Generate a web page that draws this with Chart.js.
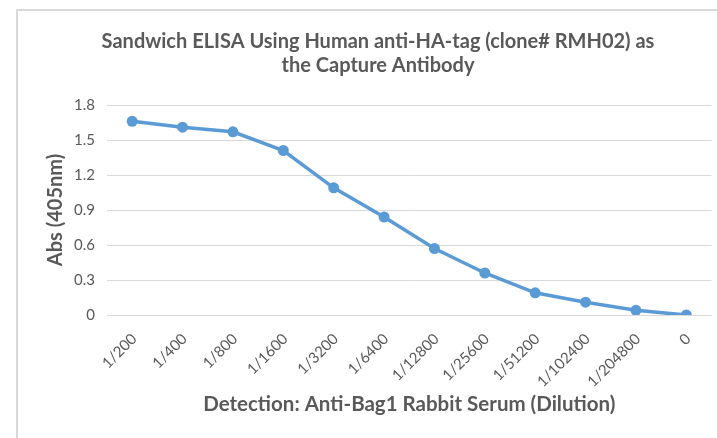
<!DOCTYPE html>
<html>
<head>
<meta charset="utf-8">
<title>Sandwich ELISA</title>
<script src="https://cdn.jsdelivr.net/npm/chart.js@4.4.0/dist/chart.umd.min.js"></script>
<style>
    html, body { margin: 0; padding: 0; background: #fff; overflow: hidden; }
    #frame {
        position: absolute; left: 16px; top: 9px; width: 900px; height: 600px;
        border-left: 2px solid #d9d9d9; border-top: 2px solid #d9d9d9;
    }
    #chart { position: absolute; left: 0; top: 0; }
</style>
</head>
<body>
<div id="frame"></div>
<canvas id="chart" width="717" height="438"></canvas>
<script>
// ========== DATOS ==========
const dilutions = ['1/200', '1/400', '1/800', '1/1600', '1/3200', '1/6400', '1/12800', '1/25600', '1/51200', '1/102400', '1/204800', '0'];
const absValues = [1.66, 1.61, 1.57, 1.41, 1.09, 0.84, 0.57, 0.36, 0.19, 0.11, 0.04, 0];
const yTicks = [0, 0.3, 0.6, 0.9, 1.2, 1.5, 1.8];
const yTickLabels = ['0', '0.3', '0.6', '0.9', '1.2', '1.5', '1.8'];
const titleLines = ['Sandwich ELISA Using Human anti-HA-tag (clone# RMH02) as', 'the Capture Antibody'];
const xTitle = 'Detection: Anti-Bag1 Rabbit Serum (Dilution)';
const yTitle = 'Abs (405nm)';

const gray = '#595959';
const blue = '#5b9bd5';
const fontFamily = 'Lato, "Open Sans", sans-serif';

// ========== TITULO (dos lineas, centrado sobre el area del grafico) ==========
const chartTitle = {
    id: 'chartTitle',
    afterDraw(chart) {
        const ctx = chart.ctx;
        ctx.save();
        ctx.fillStyle = gray;
        ctx.font = 'bold 20px ' + fontFamily;
        ctx.textAlign = 'center';
        ctx.textBaseline = 'alphabetic';
        titleLines.forEach((line, i) => ctx.fillText(line, 378, 48 + i * 24));
        ctx.restore();
    }
};

// ========== GRAFICO ==========
const ctx = document.getElementById('chart').getContext('2d');
new Chart(ctx, {
    type: 'line',
    data: {
        labels: dilutions,
        datasets: [{
            data: absValues,
            borderColor: blue,
            backgroundColor: blue,
            borderWidth: 3.5,
            pointRadius: 5.5,
            pointBorderWidth: 0,
            tension: 0
        }]
    },
    options: {
        responsive: false,
        animation: false,
        devicePixelRatio: 1,
        layout: { padding: { left: 16, top: 105, right: 4, bottom: 0 } },
        plugins: { legend: { display: false }, title: { display: false }, tooltip: { enabled: false } },
        scales: {
            x: {
                offset: true,
                grid: { display: false },
                border: { display: false },
                ticks: {
                    autoSkip: false, minRotation: 45, maxRotation: 45,
                    color: gray, padding: 7, labelOffset: 2,
                    font: { family: fontFamily, size: 15 }
                },
                title: {
                    display: true, text: xTitle, color: gray,
                    padding: { top: 0, bottom: 21 },
                    font: { family: fontFamily, size: 20.5, weight: 'bold' }
                },
                afterFit(scale) { scale.height = 123; }
            },
            y: {
                min: 0, max: 1.8,
                afterBuildTicks(scale) { scale.ticks = yTicks.map(v => ({ value: v })); },
                grid: { color: '#d9d9d9', lineWidth: 1, drawTicks: false },
                border: { display: false },
                ticks: {
                    color: gray, padding: 12,
                    font: { family: fontFamily, size: 15 },
                    callback: (v, i) => yTickLabels[i]
                },
                title: {
                    display: true, text: yTitle, color: gray,
                    padding: { top: 28, bottom: 0 },
                    font: { family: fontFamily, size: 20, weight: 'bold' }
                },
                afterFit(scale) { scale.width = 91; }
            }
        }
    },
    plugins: [chartTitle]
});
</script>
</body>
</html>
